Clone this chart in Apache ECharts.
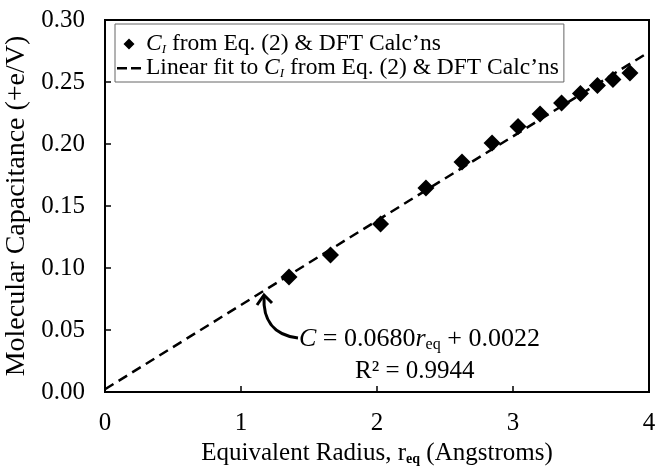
<!DOCTYPE html>
<html>
<head>
<meta charset="utf-8">
<script src="https://cdn.jsdelivr.net/npm/echarts@6/dist/echarts.min.js"></script>
<style>html,body{margin:0;padding:0;background:#fff;}#c{width:667px;height:468px;}</style>
</head>
<body>
<div id="c"></div>
<script>
// Data
const radius = [1.353, 1.658, 2.026, 2.360, 2.625, 2.846, 3.037, 3.199, 3.357, 3.496, 3.621, 3.735, 3.860];
const capacitance = [0.0927, 0.1105, 0.1355, 0.1645, 0.1855, 0.2008, 0.2141, 0.2242, 0.2331, 0.2407, 0.2472, 0.2520, 0.2573];
const fitX = [0, 4];
const fitY = [0.0022, 0.2742];
const xTicks = [0, 1, 2, 3, 4];
const yTicks = [0.00, 0.05, 0.10, 0.15, 0.20, 0.25, 0.30];

const FONT = '"Liberation Serif", "DejaVu Serif", serif';
const chart = echarts.init(document.getElementById('c'));
const LF = 23.5;
const LH = 26;
const legRich = {
  it: {fontFamily: FONT, fontStyle: 'italic', fontSize: LF, color: '#000', lineHeight: LH},
  sub: {fontFamily: FONT, fontStyle: 'italic', fontSize: 13, color: '#000', lineHeight: LH, padding: [11, 0, 0, 0]},
  n: {fontFamily: FONT, fontSize: LF, color: '#000', lineHeight: LH}
};
const diamondIcon = 'path://M0,0h0.05v0.05h-0.05z M12,0.5L17.5,6L12,11.5L6.5,6z M23.95,11.95h0.05v0.05h-0.05z';
const dashIcon = 'path://M0,0h0.05v0.05h-0.05z M0,5h10v2.4h-10z M14,5h10v2.4h-10z M23.95,11.95h0.05v0.05h-0.05z';

chart.setOption({
  animation: false,
  backgroundColor: '#fff',
  grid: {left: 105, right: 18, top: 20, bottom: 76, containLabel: false, outerBoundsMode: 'none',
    show: true, borderColor: '#000', borderWidth: 2, backgroundColor: 'transparent'},
  xAxis: {
    type: 'value', min: xTicks[0], max: xTicks[xTicks.length - 1], interval: 1,
    name: 'Equivalent Radius, {s|r}{sub|eq} (Angstroms)', nameLocation: 'middle', nameGap: 41,
    nameTextStyle: {fontFamily: FONT, fontSize: 25, color: '#000',
      rich: {s: {fontFamily: FONT, fontSize: 25, color: '#000'}, sub: {fontFamily: FONT, fontSize: 14, fontWeight: 'bold', color: '#000', padding: [12, 0, 0, 0]}}},
    axisLine: {lineStyle: {color: '#000', width: 2}},
    axisTick: {inside: true, length: 6, lineStyle: {color: '#000', width: 1.5}},
    axisLabel: {fontFamily: FONT, fontSize: 25, color: '#000', margin: 19},
    splitLine: {show: false}
  },
  yAxis: {
    type: 'value', min: yTicks[0], max: yTicks[yTicks.length - 1], interval: 0.05,
    name: 'Molecular Capacitance (+e/V)', nameLocation: 'middle', nameGap: 65,
    nameTextStyle: {fontFamily: FONT, fontSize: 28, color: '#000'},
    axisLine: {lineStyle: {color: '#000', width: 2}},
    axisTick: {inside: true, length: 6, lineStyle: {color: '#000', width: 1.5}},
    axisLabel: {fontFamily: FONT, fontSize: 25, color: '#000', margin: 20, formatter: v => v.toFixed(2)},
    splitLine: {show: false}
  },
  legend: {
    left: 115, top: 24, orient: 'vertical', itemGap: 0,
    padding: [8, 5, 2, 2],
    borderColor: '#666', borderWidth: 1, backgroundColor: '#fff',
    itemWidth: 24, itemHeight: 12,
    textStyle: {fontFamily: FONT, fontSize: LF, color: '#000', rich: legRich},
    data: [
      {name: 'pts', icon: diamondIcon},
      {name: 'fit', icon: dashIcon}
    ],
    formatter: function (n) {
      if (n === 'pts') return '{it|C}{sub|I}{n| from Eq. (2) & DFT Calc\u2019ns}';
      return '{n|Linear fit to }{it|C}{sub|I}{n| from Eq. (2) & DFT Calc\u2019ns}';
    }
  },
  series: [
    {
      name: 'fit', type: 'line', data: fitX.map((x, i) => [x, fitY[i]]),
      symbol: 'none', lineStyle: {color: '#000', width: 2.5, type: [10, 6]}, itemStyle: {color: '#000'}, z: 2
    },
    {
      name: 'pts', type: 'scatter', data: radius.map((x, i) => [x, capacitance[i]]),
      symbol: 'diamond', symbolSize: 17, itemStyle: {color: '#000', opacity: 1}, z: 3
    }
  ],
  graphic: [
    {type: 'bezierCurve', shape: {x1: 298, y1: 338, cpx1: 272, cpy1: 335, cpx2: 263, cpy2: 318, x2: 264, y2: 297},
      style: {stroke: '#000', lineWidth: 3, fill: null}},
    {type: 'polyline', shape: {points: [[257, 305], [264, 295], [272, 303]]}, style: {stroke: '#000', lineWidth: 3, fill: null}},
    {type: 'text', left: 299, top: 326, style: {
      text: '{it|C}{n| = 0.0680}{it|r}{sb|eq}{n| + 0.0022}', rich: {
        it: {fontFamily: FONT, fontStyle: 'italic', fontSize: 26, fill: '#000', lineHeight: 28},
        n: {fontFamily: FONT, fontSize: 26, fill: '#000', lineHeight: 28},
        sb: {fontFamily: FONT, fontSize: 16, fill: '#000', lineHeight: 28, padding: [11, 0, 0, 0]}
      }}},
    {type: 'text', left: 355, top: 359, style: {text: 'R\u00b2 = 0.9944', fontFamily: FONT, fontSize: 25, fill: '#000'}}
  ]
});
</script>
</body>
</html>
